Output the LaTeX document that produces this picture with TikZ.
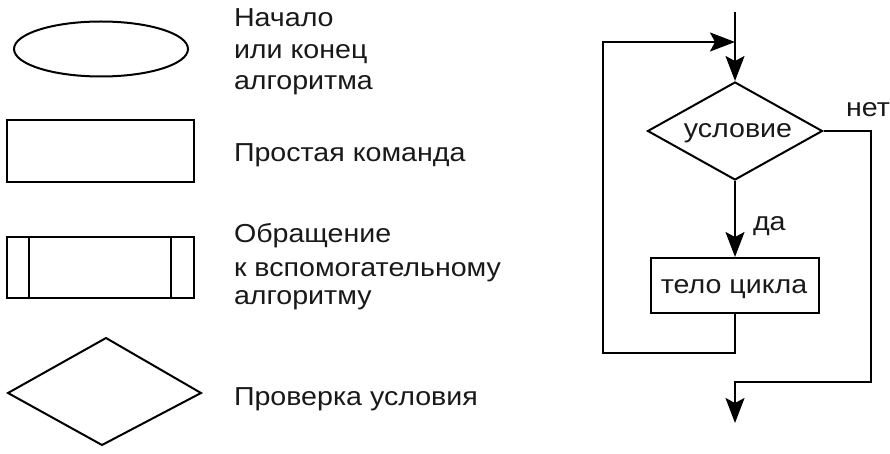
\documentclass[tikz,border=0pt]{standalone}
\usepackage{fontspec}
\setmainfont[FakeStretch=1.1]{Liberation Sans}
\usetikzlibrary{arrows.meta,shapes.geometric}
\begin{document}
\begin{tikzpicture}[x=1pt,y=-1pt,
  line width=2pt, line join=miter,
  txt/.style={inner sep=0pt, font=\fontsize{26}{31}\selectfont, text=black!90},
  flow/.style={-{Stealth[length=25pt,width=19pt,inset=5pt]}},
  shp/.style={draw, line width=2pt}]
\useasboundingbox (0,0) rectangle (890,454);
% legend shapes
\draw[shp] (101,49) ellipse [x radius=87, y radius=27.5];
\node[shp, inner sep=0pt, minimum width=187pt, minimum height=62pt] (cmd) at (100.5,151) {};
\node[shp, inner sep=0pt, minimum width=187pt, minimum height=61pt] (sub) at (100.5,267.5) {};
\draw[line width=2pt] (29,237) -- (29,298) (171,237) -- (171,298);
\draw[shp] (8,393) -- (106,338) -- (201,393) -- (102,445) -- cycle;
% legend texts
\node[txt, anchor=base west] (t1) at (233,27) {Начало};
\node[txt, anchor=base west] (t2) at (233,59) {или конец};
\node[txt, anchor=base west] (t3) at (233,90) {алгоритма};
\node[txt, anchor=base west] (t4) at (233,162) {Простая команда};
\node[txt, anchor=base west] (t5) at (233,242) {Обращение};
\node[txt, anchor=base west] (t6) at (233,276) {к вспомогательному};
\node[txt, anchor=base west] (t7) at (233,304) {алгоритму};
\node[txt, anchor=base west] (t8) at (233,405) {Проверка условия};
% loop flowchart
\coordinate (top) at (735,12);
\coordinate (join) at (735,42);
\node[draw, diamond, aspect=1.78, inner sep=0pt, minimum width=175pt, minimum height=98pt] (cond) at (735,131) {};
\node[txt, anchor=base] (condt) at (738,138) {условие};
\node[shp, inner sep=0pt, minimum width=168pt, minimum height=55pt] (body) at (735,285.5) {};
\node[txt, anchor=base] (bodyt) at (734,293) {тело цикла};
\node[txt, anchor=base west] (net) at (845,117) {нет};
\node[txt, anchor=base west] (da) at (752,230) {да};
\coordinate (exit) at (735,423);
\draw[flow] (top) -- (cond.north);
\draw[flow] (cond.south) -- (body.north);
\draw[flow] (body.south) -- (735,353) -- (603,353) -- (603,42) -- (join);
\draw[flow] (cond.east) -- (871,131) -- (871,382) -- (735,382) -- (exit);
\end{tikzpicture}
\end{document}
